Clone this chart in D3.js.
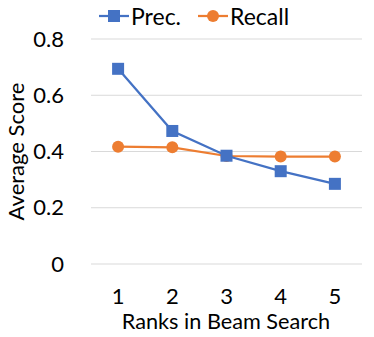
<!DOCTYPE html>
<html lang="en">
<head>
  <meta charset="UTF-8">
  <title>Precision and Recall by Beam Rank</title>
  <script src="https://d3js.org/d3.v7.min.js"></script>
  <style>
    body { margin: 0; background: #fff; }
    svg { font-family: Lato, "Open Sans", sans-serif; }
  </style>
</head>
<body>
  <svg width="374" height="337"></svg>
  <script>
    const ranks = ["1", "2", "3", "4", "5"];
    const precision = [0.694, 0.473, 0.385, 0.330, 0.285];
    const recall = [0.417, 0.415, 0.384, 0.382, 0.382];
    const yTicks = [0, 0.2, 0.4, 0.6, 0.8];

    let svg = d3.select("svg");
    let margin = { top: 39, right: 12, bottom: 73, left: 91 };
    let width = +svg.attr("width");
    let height = +svg.attr("height");

    let x = d3.scaleBand()
      .domain(ranks)
      .range([margin.left, width - margin.right]);

    let y = d3.scaleLinear()
      .domain([0, 0.8])
      .range([height - margin.bottom, margin.top]);

    // gridlines
    svg.append("g")
      .selectAll("line")
      .data(yTicks)
      .enter().append("line")
      .attr("x1", margin.left)
      .attr("x2", width - margin.right)
      .attr("y1", d => y(d))
      .attr("y2", d => y(d))
      .attr("stroke", "#d9d9d9")
      .attr("stroke-width", 1);

    // y axis labels
    let yAxis = svg.append("g")
      .attr("transform", `translate(${margin.left - 27},0)`)
      .call(d3.axisLeft(y).tickValues(yTicks).tickSize(0).tickPadding(0)
        .tickFormat(d => d === 0 ? "0" : d3.format(".1f")(d)));
    yAxis.select(".domain").remove();
    yAxis.selectAll("text")
      .attr("font-size", 22)
      .attr("font-family", "Lato, sans-serif")
      .attr("fill", "#000");

    // x axis labels
    let xAxis = svg.append("g")
      .attr("transform", `translate(0,${height - margin.bottom + 24})`)
      .call(d3.axisBottom(x).tickSize(0).tickPadding(0));
    xAxis.select(".domain").remove();
    xAxis.selectAll("text")
      .attr("font-size", 22)
      .attr("font-family", "Lato, sans-serif")
      .attr("fill", "#000");

    svg.append("text")
      .attr("x", 226)
      .attr("y", 329)
      .attr("text-anchor", "middle")
      .attr("font-size", 21.7)
      .text("Ranks in Beam Search");

    svg.append("text")
      .attr("transform", `translate(24,151.5) rotate(-90)`)
      .attr("text-anchor", "middle")
      .attr("font-size", 22)
      .text("Average Score");

    let cx = d => x(d) + x.bandwidth() / 2;

    let line = d3.line()
      .x((d, i) => cx(ranks[i]))
      .y(d => y(d));

    // recall series
    svg.append("path")
      .datum(recall)
      .attr("fill", "none")
      .attr("stroke", "#ED7D31")
      .attr("stroke-width", 2.25)
      .attr("d", line);
    svg.selectAll(".rec")
      .data(recall)
      .enter().append("circle")
      .attr("class", "rec")
      .attr("cx", (d, i) => cx(ranks[i]))
      .attr("cy", d => y(d))
      .attr("r", 6)
      .attr("fill", "#ED7D31");

    // precision series
    svg.append("path")
      .datum(precision)
      .attr("fill", "none")
      .attr("stroke", "#4472C4")
      .attr("stroke-width", 2.25)
      .attr("d", line);
    svg.selectAll(".prec")
      .data(precision)
      .enter().append("rect")
      .attr("class", "prec")
      .attr("x", (d, i) => cx(ranks[i]) - 6)
      .attr("y", d => y(d) - 6)
      .attr("width", 12)
      .attr("height", 12)
      .attr("fill", "#4472C4");

    // legend
    let legend = [
      { name: "Prec.", color: "#4472C4", shape: "square", x: 99 },
      { name: "Recall", color: "#ED7D31", shape: "circle", x: 198 }
    ];
    let ly = 16;
    legend.forEach(l => {
      svg.append("line")
        .attr("x1", l.x).attr("x2", l.x + 30)
        .attr("y1", ly).attr("y2", ly)
        .attr("stroke", l.color)
        .attr("stroke-width", 2.25);
      if (l.shape === "square") {
        svg.append("rect")
          .attr("x", l.x + 15 - 6).attr("y", ly - 6)
          .attr("width", 12).attr("height", 12)
          .attr("fill", l.color);
      } else {
        svg.append("circle")
          .attr("cx", l.x + 15).attr("cy", ly)
          .attr("r", 6)
          .attr("fill", l.color);
      }
      svg.append("text")
        .attr("x", l.x + 32)
        .attr("y", 25)
        .attr("font-size", 23)
        .text(l.name);
    });
  </script>
</body>
</html>
